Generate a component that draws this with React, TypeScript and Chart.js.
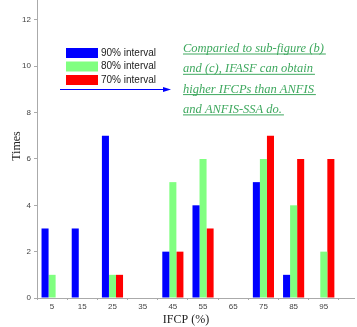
import React, { useEffect, useRef } from "react";
import { Chart, registerables } from "chart.js";

Chart.register(...registerables);

const categories = [5, 15, 25, 35, 45, 55, 65, 75, 85, 95];
const seriesNames = ["90% interval", "80% interval", "70% interval"];
const interval90 = [3, 3, 7, 0, 2, 4, 0, 5, 1, 0];
const interval80 = [1, 0, 1, 0, 5, 6, 0, 6, 4, 2];
const interval70 = [0, 0, 1, 0, 2, 3, 0, 7, 6, 6];
const yTicks = [0, 2, 4, 6, 8, 10, 12];
const noteLines = [
  "Comparied to sub-figure (b)",
  "and (c), IFASF can obtain",
  "higher IFCPs than ANFIS",
  "and ANFIS-SSA do.",
];
const colors = ["#0000ff", "#80ff80", "#ff0000"];

const overlay = {
  id: "overlay",
  afterDraw(chart: any) {
    const ctx = chart.ctx;
    ctx.save();
    // legend
    ctx.font = "10px Arial, 'Liberation Sans', sans-serif";
    ctx.textBaseline = "middle";
    ctx.textAlign = "left";
    seriesNames.forEach((n, i) => {
      const y = 53 + i * 13.5;
      ctx.fillStyle = colors[i];
      ctx.fillRect(66, y - 5, 32, 10);
      ctx.fillStyle = "#222";
      ctx.fillText(n, 101, y);
    });
    // arrow
    ctx.strokeStyle = "#0000ff";
    ctx.fillStyle = "#0000ff";
    ctx.lineWidth = 1;
    ctx.beginPath();
    ctx.moveTo(60, 89.5);
    ctx.lineTo(166, 89.5);
    ctx.stroke();
    ctx.beginPath();
    ctx.moveTo(171, 89.5);
    ctx.lineTo(163, 87);
    ctx.lineTo(163, 92);
    ctx.closePath();
    ctx.fill();
    // note
    ctx.font = "italic 12.5px 'Liberation Serif', 'DejaVu Serif', serif";
    ctx.fillStyle = "#3ea85e";
    ctx.strokeStyle = "#3ea85e";
    noteLines.forEach((t, i) => {
      const y = 52 + i * 20.3;
      ctx.textBaseline = "alphabetic";
      ctx.fillText(t, 183, y);
      const w = ctx.measureText(t).width;
      ctx.beginPath();
      ctx.moveTo(183, y + 2);
      ctx.lineTo(183 + w + 2, y + 2);
      ctx.stroke();
    });
    // axis titles
    ctx.fillStyle = "#222";
    ctx.font = "12px 'Liberation Serif', 'DejaVu Serif', serif";
    ctx.textAlign = "center";
    ctx.textBaseline = "middle";
    ctx.fillText("IFCP (%)", 186, 320);
    ctx.translate(17, 146);
    ctx.rotate(-Math.PI / 2);
    ctx.fillText("Times", 0, 0);
    ctx.restore();
  },
};

export default function App() {
  const ref = useRef<HTMLCanvasElement>(null);
  useEffect(() => {
    document.body.style.margin = "0";
    const mk = (arr: number[]) => categories.map((c, i) => ({ x: c, y: arr[i] }));
    const chart = new Chart(ref.current!, {
      type: "bar",
      data: {
        datasets: [interval90, interval80, interval70].map((arr, i) => ({
          label: seriesNames[i],
          data: mk(arr) as any,
          backgroundColor: colors[i],
          borderWidth: 0,
          categoryPercentage: 0.7,
          barPercentage: 1,
        })),
      },
      options: {
        animation: false,
        responsive: false,
        maintainAspectRatio: false,
        layout: { padding: { top: 0, right: 3, left: 0, bottom: 0 } },
        plugins: { legend: { display: false }, tooltip: { enabled: false } },
        scales: {
          x: {
            type: "linear",
            min: 0,
            max: 105,
            offset: false,
            afterBuildTicks: (s: any) => {
              s.ticks = categories.map((v) => ({ value: v }));
            },
            afterFit: (s: any) => {
              s.height = 29;
              s.paddingLeft = 0;
              s.paddingRight = 0;
            },
            border: { color: "#aaa", width: 1 },
            grid: { display: true, drawOnChartArea: false, tickLength: 2, color: "#aaa" },
            ticks: {
              color: "#444",
              font: { size: 8, family: "Arial, 'Liberation Sans', sans-serif" },
              padding: 2,
              maxRotation: 0,
              autoSkip: false,
            },
          },
          y: {
            min: 0,
            max: 12.86,
            afterBuildTicks: (s: any) => {
              s.ticks = yTicks.map((v) => ({ value: v }));
            },
            afterFit: (s: any) => {
              s.width = 37;
              s.paddingTop = 0;
              s.paddingBottom = 0;
            },
            border: { color: "#aaa", width: 1 },
            grid: { display: true, drawOnChartArea: false, tickLength: 3, color: "#aaa" },
            ticks: {
              color: "#444",
              font: { size: 8, family: "Arial, 'Liberation Sans', sans-serif" },
              padding: 3,
            },
          },
        },
      },
      plugins: [overlay],
    });
    return () => chart.destroy();
  }, []);
  return (
    <div style={{ width: 357, height: 327 }}>
      <canvas ref={ref} width={357} height={327} style={{ display: "block" }} />
    </div>
  );
}
